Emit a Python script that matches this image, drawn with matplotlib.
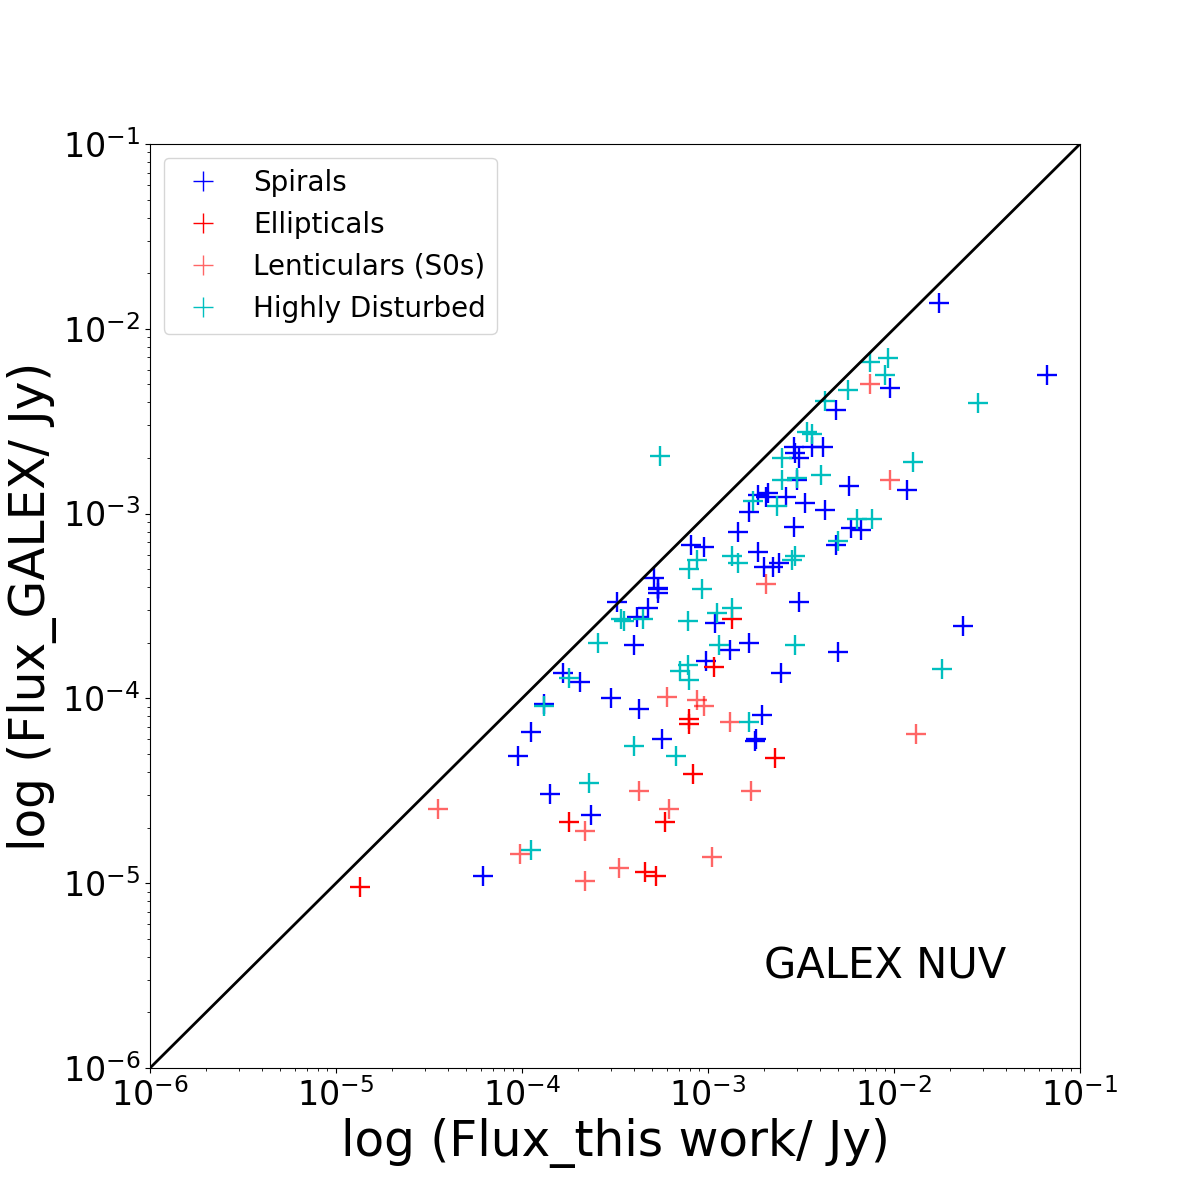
import numpy as np
import matplotlib
matplotlib.use("Agg")
import matplotlib.pyplot as plt

# log10 fluxes (x: this work, y: GALEX)
spiral_logx = [-1.76, -1.18, -2.02, -2.31, -2.54, -2.44, -2.38, -2.53, -2.51, -2.52,
               -2.24, -1.93, -2.68, -2.69, -2.58, -2.73, -2.48, -2.78, -2.37, -2.23,
               -2.18, -2.54, -2.84, -2.31, -3.09, -3.02, -2.73, -2.70, -2.65, -2.62,
               -3.29, -3.27, -3.27, -3.27, -2.51, -3.49, -3.32, -3.38, -2.96, -1.63,
               -3.40, -2.88, -2.78, -2.30, -3.01, -2.61, -3.78, -3.69, -3.88, -3.52,
               -3.37, -2.71, -2.74, -3.25, -3.95, -4.02, -3.85, -3.63, -4.21, -2.75]
spiral_logy = [-1.86, -2.25, -2.32, -2.44, -2.64, -2.64, -2.64, -2.67, -2.70, -2.82,
               -2.85, -2.87, -2.89, -2.91, -2.91, -2.90, -2.94, -2.99, -2.98, -3.08,
               -3.09, -3.07, -3.10, -3.17, -3.17, -3.18, -3.21, -3.29, -3.29, -3.27,
               -3.35, -3.40, -3.41, -3.43, -3.48, -3.48, -3.51, -3.56, -3.59, -3.61,
               -3.71, -3.74, -3.70, -3.75, -3.80, -3.86, -3.86, -3.91, -4.03, -4.00,
               -4.06, -4.09, -4.22, -4.22, -4.18, -4.31, -4.52, -4.63, -4.96, -4.23]

elliptical_logx = [-4.87, -3.75, -3.23, -3.34, -3.28, -3.08, -3.10, -3.10, -2.64, -2.97, -2.87]
elliptical_logy = [-5.02, -4.67, -4.67, -4.94, -4.96, -4.41, -4.11, -4.14, -4.32, -3.83, -3.57]

lenticular_logx = [-4.45, -4.01, -3.66, -3.66, -3.48, -3.37, -3.21, -2.98, -2.77, -2.88,
                   -3.22, -3.06, -3.02, -2.69, -2.13, -2.02, -1.88]
lenticular_logy = [-4.60, -4.84, -4.72, -4.99, -4.92, -4.50, -4.60, -4.86, -4.50, -4.13,
                   -3.99, -4.01, -4.04, -3.38, -2.30, -2.82, -4.19]

disturbed_logx = [-2.13, -2.03, -2.05, -2.25, -2.37, -1.55, -2.47, -2.44, -2.60, -1.90,
                  -2.39, -2.60, -2.52, -2.76, -2.63, -2.20, -2.12, -2.30, -3.06, -3.10,
                  -2.87, -2.84, -2.53, -2.55, -3.03, -2.87, -2.95, -3.11, -3.26, -3.47,
                  -3.45, -3.35, -3.59, -3.75, -3.88, -3.15, -3.11, -3.10, -2.94, -2.53,
                  -1.74, -2.78, -3.40, -3.17, -3.64, -3.95]
disturbed_logy = [-2.18, -2.16, -2.25, -2.33, -2.39, -2.40, -2.56, -2.57, -2.70, -2.72,
                  -2.79, -2.82, -2.81, -2.93, -2.96, -3.03, -3.03, -3.15, -3.25, -3.30,
                  -3.23, -3.27, -3.23, -3.25, -3.41, -3.51, -3.54, -3.58, -2.69, -3.57,
                  -3.58, -3.57, -3.70, -3.89, -4.04, -3.85, -3.82, -3.90, -3.71, -3.71,
                  -3.84, -4.13, -4.26, -4.31, -4.46, -4.82]

xlim = [1e-6, 1e-1]
ylim = [1e-6, 1e-1]

fig, ax = plt.subplots(figsize=(12, 12), dpi=100)

ms = 15
mew = 1.7
ax.plot(10 ** np.array(spiral_logx), 10 ** np.array(spiral_logy), '+', color='blue',
        ms=ms, mew=mew, label='Spirals')
ax.plot(10 ** np.array(elliptical_logx), 10 ** np.array(elliptical_logy), '+', color='red',
        ms=ms, mew=mew, label='Ellipticals')
ax.plot(10 ** np.array(lenticular_logx), 10 ** np.array(lenticular_logy), '+', color='red',
        alpha=0.6, ms=ms, mew=mew, label='Lenticulars (S0s)')
ax.plot(10 ** np.array(disturbed_logx), 10 ** np.array(disturbed_logy), '+', color='c',
        ms=ms, mew=mew, label='Highly Disturbed')

ax.plot(xlim, ylim, color='black', lw=2)

ax.set_xscale('log')
ax.set_yscale('log')
ax.set_xlim(xlim)
ax.set_ylim(ylim)
ax.tick_params(axis='both', which='major', labelsize=24)

ax.set_xlabel('log (Flux_this work/ Jy)', fontsize=35)
ax.set_ylabel('log (Flux_GALEX/ Jy)', fontsize=35)

ax.text(0.79, 0.11, 'GALEX NUV', transform=ax.transAxes, fontsize=30,
        ha='center', va='center')

leg = ax.legend(loc='upper left', fontsize=20)
for h in leg.legend_handles:
    h.set_markeredgewidth(1.0)

fig.savefig('out.png', dpi=100)
